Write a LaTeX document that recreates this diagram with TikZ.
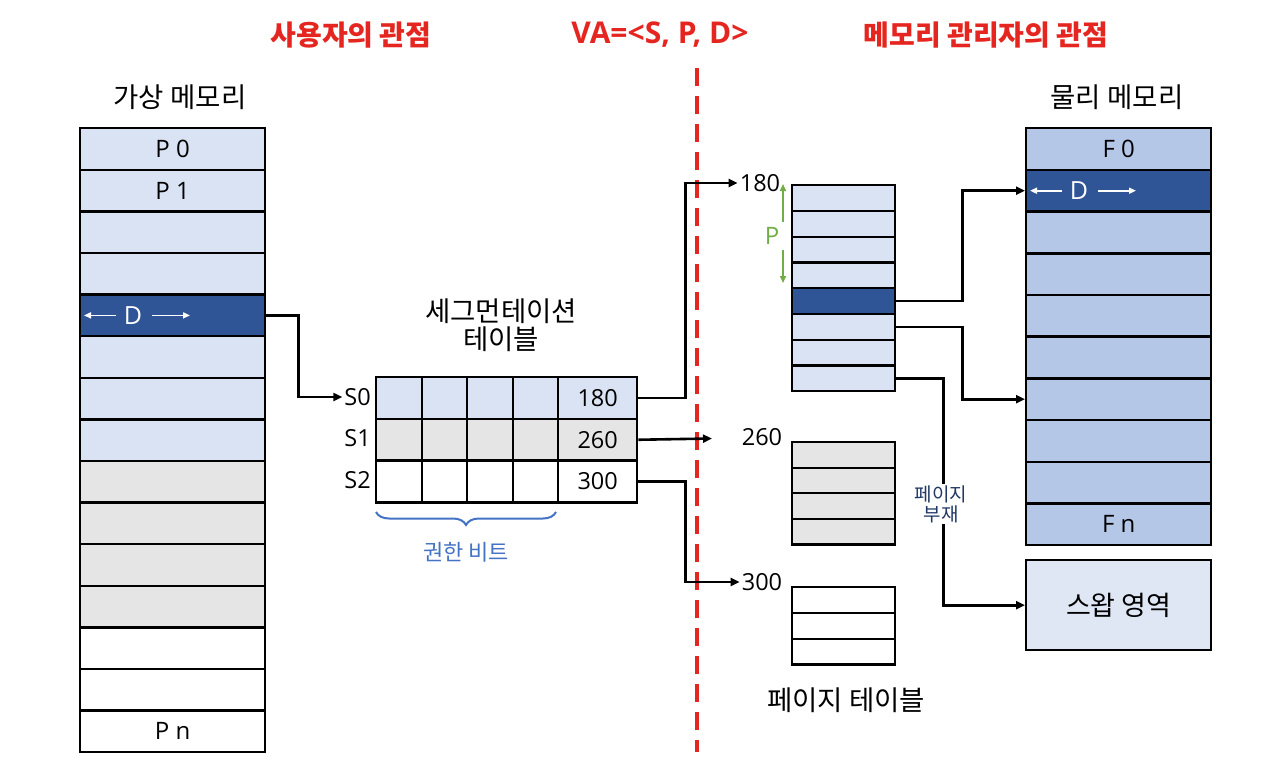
\documentclass[tikz,border=0pt]{standalone}
\usepackage{fontspec}
\setmainfont{Noto Sans CJK KR}
\newfontfamily\lat{Open Sans}
\usetikzlibrary{arrows.meta,decorations.pathreplacing}
\definecolor{lb}{HTML}{DAE3F3}
\definecolor{db}{HTML}{2F5597}
\definecolor{gr}{HTML}{E5E5E5}
\definecolor{pm}{HTML}{B4C7E7}
\definecolor{sw}{HTML}{DEE7F3}
\definecolor{rd}{HTML}{E52620}
\definecolor{gn}{HTML}{70AD47}
\definecolor{bl}{HTML}{4472C4}
\definecolor{nv}{HTML}{1F3864}
\begin{document}
\begin{tikzpicture}[x=1pt,y=-1pt,
  vrow/.style={draw, line width=2.4pt, anchor=north west, minimum width=185pt, minimum height=41.6pt, inner sep=0pt, font=\lat\fontsize{24}{28}\selectfont},
  scell/.style={draw, line width=2.4pt, anchor=north west, minimum width=45.5pt, minimum height=41.7pt, inner sep=0pt},
  acell/.style={draw, line width=2.4pt, anchor=north west, minimum width=79pt, minimum height=41.7pt, inner sep=0pt, font=\lat\fontsize{23.5}{27}\selectfont},
  prow/.style={draw, line width=2.4pt, anchor=north west, minimum width=103pt, minimum height=25.75pt, inner sep=0pt},
  lbl/.style={font=\lat\fontsize{23.5}{27}\selectfont, inner sep=2pt},
  ttl/.style={font=\fontsize{27.5}{31}\selectfont},
  rtl/.style={font=\bfseries\fontsize{28}{32}\selectfont, text=rd},
  conn/.style={line width=2.6pt, -{Triangle[length=9pt,width=8pt]}},
  warr/.style={white, line width=1.6pt, -{Triangle[length=7pt,width=6pt]}},
  dtxt/.style={text=white, font=\lat\fontsize{25}{28}\selectfont, inner sep=0pt}
]
\useasboundingbox (0,0) rectangle (1280,760);

% titles
\node[rtl] (t1) at (351,35) {사용자의 관점};
\node[rtl, font=\lat\bfseries\fontsize{30}{34}\selectfont] (t2) at (660,35) {VA=<S, P, D>};
\node[rtl] (t3) at (986,35) {메모리 관리자의 관점};
\draw[rd, line width=3.2pt, dash pattern=on 18pt off 10pt] (697,68) -- (697,752);

% virtual memory
\node[ttl] (vt) at (180,97) {가상 메모리};
\node[vrow, fill=lb] (v0) at (79,127) {P 0};
\node[vrow, fill=lb] (v1) at (79,168.6) {P 1};
\node[vrow, fill=lb] (v2) at (79,210.2) {};
\node[vrow, fill=lb] (v3) at (79,251.8) {};
\node[vrow, fill=db] (v4) at (79,293.4) {};
\node[vrow, fill=lb] (v5) at (79,335) {};
\node[vrow, fill=lb] (v6) at (79,376.6) {};
\node[vrow, fill=lb] (v7) at (79,418.2) {};
\node[vrow, fill=gr] (v8) at (79,459.8) {};
\node[vrow, fill=gr] (v9) at (79,501.4) {};
\node[vrow, fill=gr] (v10) at (79,543) {};
\node[vrow, fill=gr] (v11) at (79,584.6) {};
\node[vrow, fill=white] (v12) at (79,626.2) {};
\node[vrow, fill=white] (v13) at (79,667.8) {};
\node[vrow, fill=white] (v14) at (79,709.4) {P n};
\node[dtxt] (vd) at ([xshift=54pt]v4.west) {D};
\draw[warr] ([xshift=37pt]v4.west) -- ([xshift=5pt]v4.west);
\draw[warr] ([xshift=73pt]v4.west) -- ([xshift=111pt]v4.west);

% segmentation table
\node[ttl, align=center] (st) at (501,325) {세그먼테이션\\[-3pt]테이블};
\node[scell, fill=lb] (s00) at (375,376) {};
\node[scell, fill=lb] (s01) at (420.5,376) {};
\node[scell, fill=lb] (s02) at (466,376) {};
\node[scell, fill=lb] (s03) at (511.5,376) {};
\node[acell, fill=lb] (sa0) at (557,376) {180};
\node[scell, fill=gr] (s10) at (375,417.7) {};
\node[scell, fill=gr] (s11) at (420.5,417.7) {};
\node[scell, fill=gr] (s12) at (466,417.7) {};
\node[scell, fill=gr] (s13) at (511.5,417.7) {};
\node[acell, fill=gr] (sa1) at (557,417.7) {260};
\node[scell, fill=white] (s20) at (375,459.4) {};
\node[scell, fill=white] (s21) at (420.5,459.4) {};
\node[scell, fill=white] (s22) at (466,459.4) {};
\node[scell, fill=white] (s23) at (511.5,459.4) {};
\node[acell, fill=white] (sa2) at (557,459.4) {300};
\node[lbl, anchor=east] (sl0) at (373,397) {S0};
\node[lbl, anchor=east] (sl1) at (373,438.5) {S1};
\node[lbl, anchor=east] (sl2) at (373,480) {S2};
\draw[bl, line width=2pt, decorate, decoration={brace, mirror, amplitude=13pt}] (376,512) -- (556,512);
\node[text=bl, font=\fontsize{22}{25}\selectfont] (perm) at (466,552) {권한 비트};

% page tables
\node[lbl] (l180) at (760,183) {180};
\node[prow, fill=lb] (p0) at (791,184) {};
\node[prow, fill=lb] (p1) at (791,209.75) {};
\node[prow, fill=lb] (p2) at (791,235.5) {};
\node[prow, fill=lb] (p3) at (791,261.25) {};
\node[prow, fill=db] (p4) at (791,287) {};
\node[prow, fill=lb] (p5) at (791,312.75) {};
\node[prow, fill=lb] (p6) at (791,338.5) {};
\node[prow, fill=lb] (p7) at (791,364.25) {};
\draw[gn, line width=1.6pt, -{Triangle[length=7pt,width=6pt]}] (783,222) -- (783,184);
\node[text=gn, font=\lat\fontsize{24}{27}\selectfont] (pp) at (772,236) {P};
\draw[gn, line width=1.6pt, -{Triangle[length=7pt,width=6pt]}] (783,250) -- (783,283);

\node[lbl] (l260) at (762,437) {260};
\node[prow, fill=gr] (q0) at (791,441) {};
\node[prow, fill=gr] (q1) at (791,466.5) {};
\node[prow, fill=gr] (q2) at (791,492) {};
\node[prow, fill=gr] (q3) at (791,517.5) {};

\node[lbl] (l300) at (762,582) {300};
\node[prow, fill=white] (r0) at (791,586) {};
\node[prow, fill=white] (r1) at (791,611.75) {};
\node[prow, fill=white] (r2) at (791,637.5) {};
\node[ttl] (ptt) at (846,700) {페이지 테이블};

% physical memory
\node[ttl] (pt) at (1117,97) {물리 메모리};
\node[vrow, fill=pm] (f0) at (1025,127) {F 0};
\node[vrow, fill=db] (f1) at (1025,168.7) {};
\node[vrow, fill=pm] (f2) at (1025,210.4) {};
\node[vrow, fill=pm] (f3) at (1025,252.1) {};
\node[vrow, fill=pm] (f4) at (1025,293.8) {};
\node[vrow, fill=pm] (f5) at (1025,335.5) {};
\node[vrow, fill=pm] (f6) at (1025,377.2) {};
\node[vrow, fill=pm] (f7) at (1025,418.9) {};
\node[vrow, fill=pm] (f8) at (1025,460.6) {};
\node[vrow, fill=pm] (f9) at (1025,502.3) {F n};
\node[dtxt] (fd) at ([xshift=54pt]f1.west) {D};
\draw[warr] ([xshift=37pt]f1.west) -- ([xshift=5pt]f1.west);
\draw[warr] ([xshift=73pt]f1.west) -- ([xshift=111pt]f1.west);
\node[draw, line width=2.4pt, fill=sw, anchor=north west, minimum width=185pt, minimum height=90pt, inner sep=0pt, font=\fontsize{27}{30}\selectfont] (swap) at (1025,559) {스왑 영역};

% connectors
\draw[conn] (v4.east) -- ++(32,0) |- (sl0.west);
\draw[conn] (sa0.east) -- ++(47,0) |- (l180.west);
\coordinate (c260) at (712,438.5);
\draw[conn] (sa1.east) -- (c260);
\draw[conn] (sa2.east) -- ++(47,0) |- (l300.west);
\draw[conn] (p4.east) -- ++(66,0) |- (f1.west);
\draw[conn] (p5.east) -- ++(66,0) |- (f6.west);
\draw[conn] (p7.east) -- ++(47,0) |- (swap.west);
\node[fill=white, text=nv, align=center, inner sep=1pt, font=\fontsize{19}{20}\selectfont] (pf) at (941,504) {페이지\\부재};
\end{tikzpicture}
\end{document}
